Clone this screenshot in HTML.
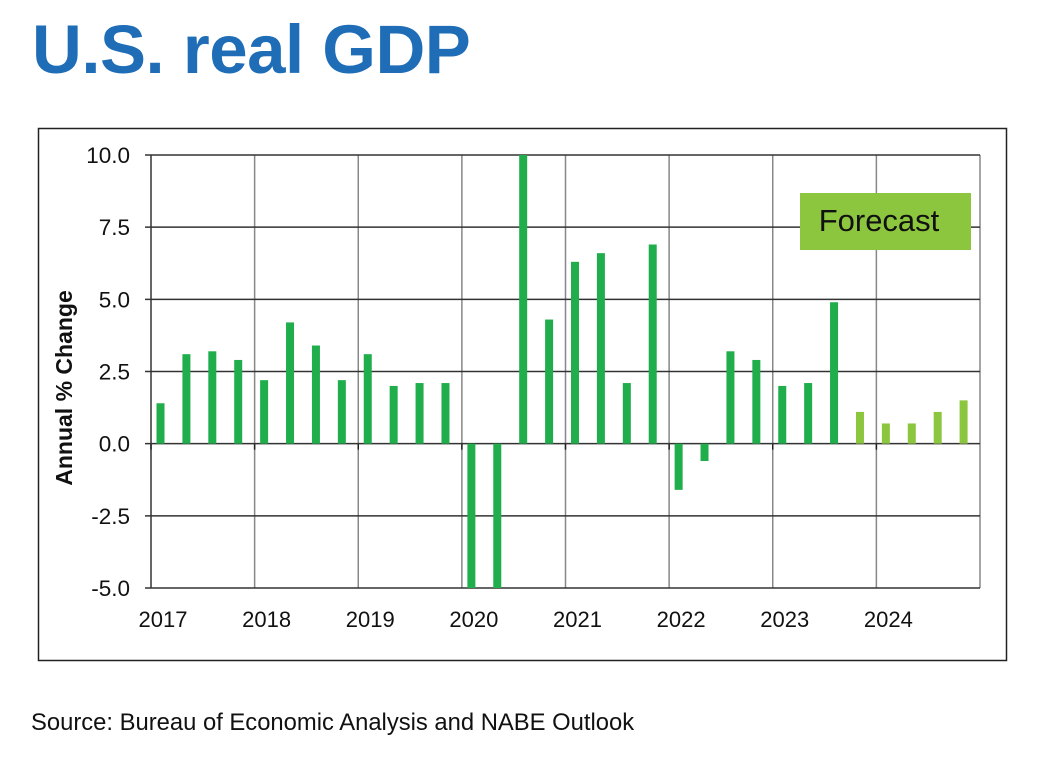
<!DOCTYPE html>
<html><head><meta charset="utf-8"><style>
body{margin:0;width:1050px;height:768px;background:#fff;overflow:hidden;font-family:"Liberation Sans",sans-serif;}
</style></head><body>
<div style="position:absolute;left:32px;top:10px;font-size:69px;font-weight:bold;color:#1e6db6;letter-spacing:-0.5px;">U.S. real GDP</div>
<svg width="1050" height="768" style="position:absolute;left:0;top:0" id="chart">
<rect x="38.5" y="128.5" width="968" height="532" fill="none" stroke="#222" stroke-width="1.5"/>
<g id="grid"></g><g id="bars"></g><g id="labels"></g>
<text transform="translate(72,388) rotate(-90)" text-anchor="middle" font-size="23" font-weight="bold" fill="#111">Annual % Change</text>
<rect x="800" y="193" width="171" height="57" fill="#8cc63f"/>
<text x="879" y="231" text-anchor="middle" font-size="31" fill="#111">Forecast</text>
<text x="31" y="730" font-size="23.8" fill="#111">Source: Bureau of Economic Analysis and NABE Outlook</text>
</svg>
<script>
const years=["2017","2018","2019","2020","2021","2022","2023","2024"];
const values=[1.4,3.1,3.2,2.9, 2.2,4.2,3.4,2.2, 3.1,2.0,2.1,2.1, -5.0,-5.0,10.0,4.3, 6.3,6.6,2.1,6.9, -1.6,-0.6,3.2,2.9, 2.0,2.1,4.9,1.1, 0.7,0.7,1.1,1.5];
const forecastStart=27;
const yTicks=[10.0,7.5,5.0,2.5,0.0,-2.5,-5.0];
const X0=151,X1=980,Y0=155,Y1=588,ymin=-5,ymax=10;
const qw=(X1-X0)/(years.length*4);
const xq=i=>X0+i*qw;
const y=v=>Y1-(Math.max(ymin,Math.min(ymax,v))-ymin)/(ymax-ymin)*(Y1-Y0);
const NS="http://www.w3.org/2000/svg";
function mk(p,t,a){const e=document.createElementNS(NS,t);for(const k in a)e.setAttribute(k,a[k]);document.getElementById(p).appendChild(e);return e;}
years.forEach((yr,i)=>{
 const x=xq(i*4);
 const l=mk('grid','line',{x1:x,x2:x,y1:Y0,y2:Y1,stroke:i==0?'#333':'#888','stroke-width':1.5});
 
 
 const tk=mk('grid','line',{x1:x,x2:x,y1:y(0),y2:y(0)+6,stroke:'#222','stroke-width':1.5});
 
 
 const t=mk('labels','text',{x:x+12,y:627,'font-size':22,'text-anchor':'middle',fill:'#111'});t.textContent=yr;
 
 
});
const rl=mk('grid','line',{x1:X1,x2:X1,y1:Y0,y2:Y1,stroke:'#888','stroke-width':1.5});


yTicks.forEach(v=>{
 const yy=y(v);
 const l=mk('grid','line',{x1:X0-6,x2:X1,y1:yy,y2:yy,stroke:'#333','stroke-width':1.5});
 
 
 const t=mk('labels','text',{x:X0-21,y:yy+8,'font-size':22.5,'text-anchor':'end',fill:'#111'});t.textContent=v.toFixed(1);
 
 
});
values.forEach((v,i)=>{
 const cx=xq(i)+9.5,y0=y(0),yv=y(v);
 const r=mk('bars','rect',{x:cx-4,width:8,y:Math.min(y0,yv),height:Math.abs(y0-yv),fill:i>=forecastStart?'#8cc63f':'#1fae4b'});
 
 
});
</script>
</body></html>
